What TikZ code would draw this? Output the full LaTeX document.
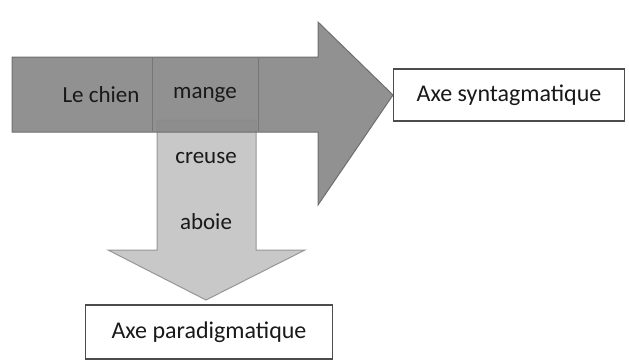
\documentclass[tikz,border=0pt]{standalone}
\usepackage{fontspec}
\setmainfont{Carlito}
\definecolor{synfill}{RGB}{138, 138, 138}
\definecolor{synline}{RGB}{110, 110, 110}
\definecolor{parfill}{RGB}{200, 200, 200}
\definecolor{parline}{RGB}{150, 150, 150}
\definecolor{inktext}{RGB}{25, 25, 25}
\usetikzlibrary{positioning}

\begin{document}
\begin{tikzpicture}[x=1pt, y=-1pt,
  axebox/.style={draw=black!70, fill=white, line width=1.2pt, minimum height=52pt, font=\fontsize{24}{28}\selectfont, text=inktext},
  mot/.style={font=\fontsize{23}{27}\selectfont, text=inktext}
]
  \useasboundingbox (0,0) rectangle (629,362);
  % axe paradigmatique (vertical)
  \draw[parline, fill=parfill, line width=1pt] (157,120) -- (256,120) -- (256,250) -- (305,250) -- (206,300) -- (108,250) -- (157,250) -- cycle;
  % axe syntagmatique (horizontal)
  \draw[synline, fill=synfill, fill opacity=0.94, line width=1pt] (12,57) -- (318,57) -- (318,22) -- (393,95) -- (318,205) -- (318,132) -- (12,132) -- cycle;
  \draw[synline!70!synfill, line width=0.5pt] (152,58) -- (152,131) (258,58) -- (258,131);
  % mots
  \node[mot] (lechien) at (101,95) {Le chien};
  \node[mot] (mange) at (205,95) {mange};
  \node[mot] (creuse) at (206,158) {creuse};
  \node[mot] (aboie) at (206,222) {aboie};
  % etiquettes
  \node[axebox, minimum width=231pt] (syn) at (509,95) {Axe syntagmatique};
  \node[axebox, minimum width=247pt, minimum height=54pt] (par) at (209,332) {Axe paradigmatique};
\end{tikzpicture}
\end{document}
